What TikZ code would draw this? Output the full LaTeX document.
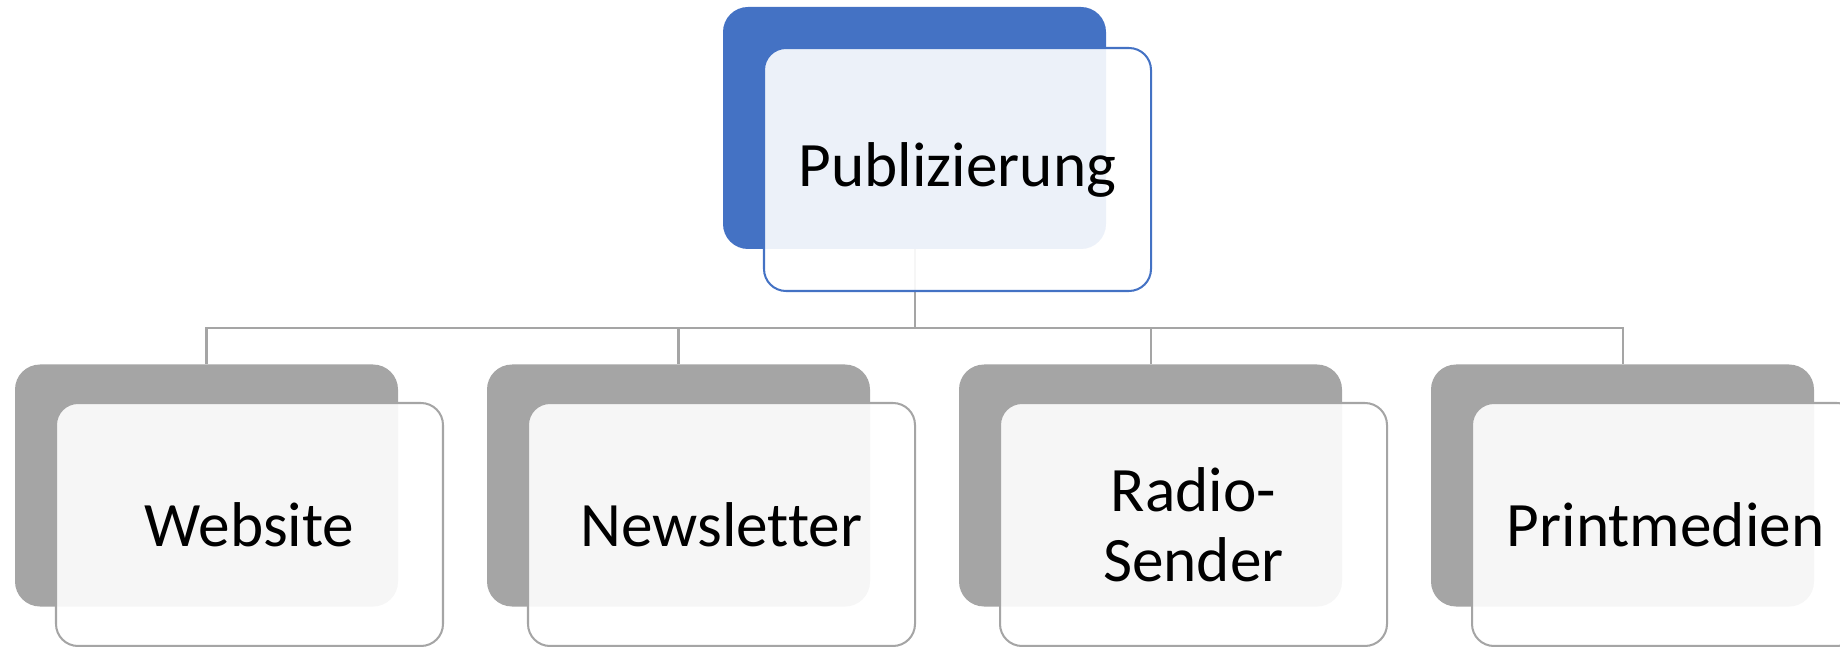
\documentclass[tikz,border=0pt]{standalone}
\usepackage{fontspec}
\setmainfont{Carlito}[Ligatures={NoCommon}]
\usetikzlibrary{positioning}
\definecolor{akzent}{HTML}{4472C4}
\definecolor{grau}{HTML}{A5A5A5}

\begin{document}
\begin{tikzpicture}[
        back/.style={rounded corners=0.5cm,minimum width=7.66cm,minimum height=4.84cm,inner sep=0pt},
        front/.style={draw,line width=1.15pt,rounded corners=0.44cm,fill=white,fill opacity=0.9,text opacity=1,
            minimum width=7.74cm,minimum height=4.86cm,inner sep=0pt,align=center,
            font=\fontsize{36}{40}\selectfont},
        link/.style={draw=grau,line width=1.15pt}
    ]
        \useasboundingbox(0,0)rectangle(36.8,-12.94);
        \clip(0,0)rectangle(36.8,-12.94);

        \node[back,fill=akzent](pubback)at(18.29,-2.56){};
        \node[back,fill=grau](webback)at(4.13,-9.71){};
        \node[back,fill=grau](newsback)at(13.57,-9.71){};
        \node[back,fill=grau](radioback)at(23.01,-9.71){};
        \node[back,fill=grau](printback)at(32.45,-9.71){};

        \coordinate(bus)at(18.29,-6.56);
        \draw[link](pubback.south)--(bus);
        \draw[link](webback.north)|-(bus);
        \draw[link](newsback.north)|-(bus);
        \draw[link](radioback.north)|-(bus);
        \draw[link](printback.north)|-(bus);

        \node[front,draw=akzent](pub)at([shift={(0.86,-0.83)}]pubback.center){Publizierung};
        \node[front,draw=grau](web)at([shift={(0.86,-0.78)}]webback.center){Website};
        \node[front,draw=grau](news)at([shift={(0.86,-0.78)}]newsback.center){Newsletter};
        \node[front,draw=grau](radio)at([shift={(0.86,-0.78)}]radioback.center){Radio-\\Sender};
        \node[front,draw=grau](print)at([shift={(0.86,-0.78)}]printback.center){Printmedien};
    \end{tikzpicture}
\end{document}
